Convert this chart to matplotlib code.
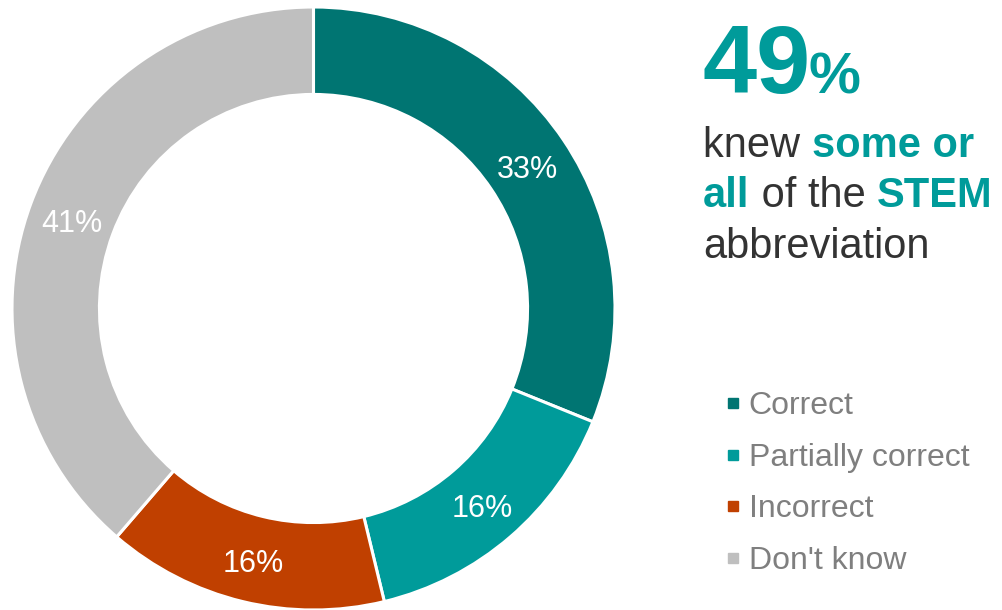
import matplotlib.pyplot as plt
from matplotlib.lines import Line2D

plt.rcParams['font.family'] = ['Liberation Sans', 'DejaVu Sans']

categories = ['Correct', 'Partially correct', 'Incorrect', "Don't know"]
values = [33, 16, 16, 41]
colors = ['#007572', '#009b9a', '#c04000', '#bfbfbf']
headline = '49'
TEAL = '#009b9a'
DARK = '#333333'

fig = plt.figure(figsize=(10.02, 6.10), dpi=100)

# donut, drawn clockwise from twelve o'clock
ax = fig.add_axes([12 / 1002, 0, 603 / 1002, 603 / 610])
total = sum(values)
wedges, _, pct_texts = ax.pie(
    values, colors=colors, startangle=90, counterclock=False,
    radius=1.0, autopct=lambda p: f'{p * total / 100:.0f}%',
    pctdistance=0.855,
    wedgeprops=dict(width=0.29, edgecolor='white', linewidth=2.2),
    textprops=dict(color='white', fontsize=22))
# nudge the value labels a little lower inside the ring
for t in pct_texts:
    x, y = t.get_position()
    t.set_position((x, y - 0.017))
ax.set_xlim(-1, 1)
ax.set_ylim(-1, 1)
ax.set_aspect('equal')
ax.axis('off')

# headline text on the right
fig.canvas.draw()
renderer = fig.canvas.get_renderer()


def put_runs(x_px, y_px, runs, size):
    """Write a row of (text, bold, colour) runs from left to right."""
    for txt, bold, col in runs:
        t = fig.text(x_px / 1002, 1 - y_px / 610, txt, fontsize=size,
                     fontweight='bold' if bold else 'normal', color=col,
                     ha='left', va='baseline')
        bb = t.get_window_extent(renderer)
        x_px += bb.width


put_runs(702, 93, [(headline, True, TEAL)], 70)
put_runs(808, 93, [('%', True, TEAL)], 42)
put_runs(703, 157, [('knew ', False, DARK), ('some or', True, TEAL)], 30)
put_runs(703, 207, [('all', True, TEAL), (' of the ', False, DARK),
                    ('STEM', True, TEAL)], 30)
put_runs(703, 258, [('abbreviation', False, DARK)], 30)

# legend
handles = [Line2D([], [], marker='s', linestyle='none', markersize=7,
                  markerfacecolor=c, markeredgecolor=c) for c in colors]
leg = fig.legend(handles, categories, loc='upper left',
                 bbox_to_anchor=(707 / 1002, 1 - 375 / 610), frameon=False,
                 fontsize=23, handlelength=0.6, handletextpad=0.2,
                 labelspacing=0.68, borderpad=0)
for t in leg.get_texts():
    t.set_color('#7f7f7f')

fig.savefig('out.png', dpi=100)
